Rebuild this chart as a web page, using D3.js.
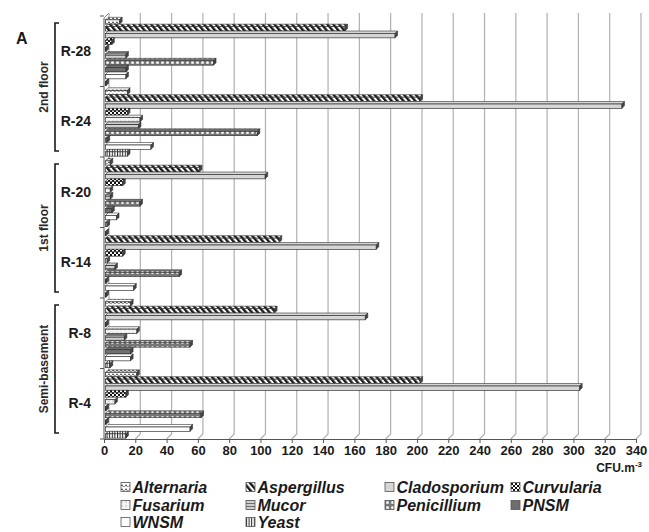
<!DOCTYPE html>
<html><head><meta charset="utf-8">
<script src="https://cdn.jsdelivr.net/npm/d3@7/dist/d3.min.js"></script>
<style>body{margin:0;background:#fff}svg{display:block;font-family:"Liberation Sans",Arial,sans-serif}</style>
</head><body><svg id="c" width="649" height="532"></svg>
<script>
const categories = ["R-28","R-24","R-20","R-14","R-8","R-4"];
const seriesNames = ["Alternaria","Aspergillus","Cladosporium","Curvularia","Fusarium","Mucor","Penicillium","PNSM","WNSM","Yeast"];
const alternaria   = [10, 15, 4, 1, 17, 21];
const aspergillus  = [154, 202, 61, 112, 109, 202];
const cladosporium = [186, 331, 103, 174, 167, 304];
const curvularia   = [5, 15, 12, 12, 1, 14];
const fusarium     = [0, 23, 4, 2, 21, 7];
const mucor        = [14, 22, 4, 7, 13, 1];
const penicillium  = [70, 98, 23, 48, 55, 62];
const pnsm         = [14, 2, 5, 1, 17, 1];
const wnsm         = [14, 30, 8, 19, 17, 55];
const yeast        = [1, 15, 2, 1, 4, 14];
const seriesValues = [alternaria, aspergillus, cladosporium, curvularia, fusarium, mucor, penicillium, pnsm, wnsm, yeast];
const xTicks = d3.range(0, 341, 20);
const floors = [{name:"2nd floor", cats:["R-28","R-24"]},{name:"1st floor", cats:["R-20","R-14"]},{name:"Semi-basement", cats:["R-8","R-4"]}];

const svg = d3.select("#c");
const defs = svg.append("defs");
const fills = {};
function pat(id, w, h, build, transform){
  const p = defs.append("pattern").attr("id", id).attr("patternUnits","userSpaceOnUse").attr("width", w).attr("height", h);
  if (transform) p.attr("patternTransform", transform);
  build(p);
  fills[id] = `url(#${id})`;
}
pat("alt", 4, 4, p => { p.append("rect").attr("width",4).attr("height",4).attr("fill","#fff");
  p.append("path").attr("d","M0,3.2 Q1,0.2 2,3.2 T4,3.2").attr("fill","none").attr("stroke","#444").attr("stroke-width",0.9); });
pat("asp", 4.5, 4.5, p => { p.append("rect").attr("width",4.5).attr("height",4.5).attr("fill","#fff");
  p.append("rect").attr("width",2.4).attr("height",4.5).attr("fill","#1a1a1a"); }, "rotate(-40)");
pat("clado", 4, 4, p => { p.append("rect").attr("width",4).attr("height",4).attr("fill","#d6d6d6"); });
pat("curv", 4, 4, p => { p.append("rect").attr("width",4).attr("height",4).attr("fill","#fff");
  p.append("rect").attr("width",2).attr("height",2).attr("fill","#111");
  p.append("rect").attr("x",2).attr("y",2).attr("width",2).attr("height",2).attr("fill","#111"); });
pat("fus", 4, 4, p => { p.append("rect").attr("width",4).attr("height",4).attr("fill","#f4f4f4");
  p.append("circle").attr("cx",1).attr("cy",1).attr("r",0.6).attr("fill","#888"); });
pat("mucor", 4, 3, p => { p.append("rect").attr("width",4).attr("height",3).attr("fill","#d0d0d0");
  p.append("path").attr("d","M0,2 L1,1 L2,2 L3,1 L4,2").attr("fill","none").attr("stroke","#555").attr("stroke-width",0.8); });
pat("pen", 5, 5, p => { p.append("rect").attr("width",5).attr("height",5).attr("fill","#777");
  p.append("circle").attr("cx",2.5).attr("cy",2.5).attr("r",1.5).attr("fill","#f2f2f2"); });
pat("pnsm", 4, 4, p => { p.append("rect").attr("width",4).attr("height",4).attr("fill","#6e6e6e"); });
pat("wnsm", 4, 4, p => { p.append("rect").attr("width",4).attr("height",4).attr("fill","#ffffff"); });
pat("yeast", 2.6, 4, p => { p.append("rect").attr("width",2.6).attr("height",4).attr("fill","#fff");
  p.append("rect").attr("width",1).attr("height",4).attr("fill","#222"); });
const fillKeys = ["alt","asp","clado","curv","fus","mucor","pen","pnsm","wnsm","yeast"];
const color = d3.scaleOrdinal().domain(seriesNames).range(fillKeys.map(k => fills[k]));

const x = d3.scaleLinear().domain([0, 340]).range([104, 636]);
const y0 = d3.scaleBand().domain(categories).range([16, 439]).paddingInner(0).paddingOuter(0);
const y1 = d3.scaleBand().domain(seriesNames).range([1, y0.bandwidth() - 0.5]).paddingInner(0).paddingOuter(0.05);
const D = 5, Dy = 5;   // wall depth
const bd = 2.5;        // bar depth

// back wall grid lines
const grid = svg.append("g");
xTicks.forEach(t => {
  grid.append("path").attr("d", `M${x(t)+D},13 L${x(t)+D},${439-Dy} L${x(t)},439`)
    .attr("fill","none").attr("stroke","#b0b0b0").attr("stroke-width",1.2);
});
grid.append("path").attr("d", `M${x(0)},18 L${x(0)+D},13`).attr("stroke","#888").attr("fill","none");
// axes
const xAxis = d3.axisBottom(x).tickValues(xTicks).tickSize(4).tickPadding(3).tickSizeOuter(0);
const gx = svg.append("g").attr("transform","translate(0,439)").call(xAxis);
gx.select(".domain").attr("stroke","#555");
gx.selectAll(".tick line").attr("stroke","#555");
gx.selectAll("text").attr("font-size",13).attr("font-weight","bold").attr("fill","#1a1a1a");

const yAxis = d3.axisLeft(y0).tickSize(0).tickPadding(13);
const gy = svg.append("g").attr("transform",`translate(${x(0)},0)`).call(yAxis);
gy.select(".domain").attr("stroke","#555").attr("d", `M0,18V439`);
gy.selectAll("text").attr("font-size",14).attr("font-weight","bold").attr("fill","#1a1a1a");
const bounds = categories.map(c => y0(c)).concat([y0(categories[categories.length-1]) + y0.bandwidth()]);
bounds.forEach(b => gy.append("line").attr("x1",-4).attr("x2",0).attr("y1",b).attr("y2",b).attr("stroke","#555"));

// bars
const bars = svg.append("g");
categories.forEach((c, ci) => {
  seriesNames.forEach((s, si) => {
    const v = seriesValues[si][ci];
    const h = y1.bandwidth() - bd;
    const yy = y0(c) + y1(s) + bd;
    const xa = x(0) + 1.5, xb = Math.max(x(v), xa + 0.5);
    const g = bars.append("g");
    g.append("path").attr("d", `M${xa},${yy} L${xa+bd},${yy-bd} L${xb+bd},${yy-bd} L${xb},${yy} Z`)
      .attr("fill", color(s)).attr("stroke","#333").attr("stroke-width",0.6);
    g.append("rect").attr("x", xa).attr("y", yy).attr("width", xb - xa).attr("height", h)
      .attr("fill", color(s)).attr("stroke","#333").attr("stroke-width",0.7);
    g.append("path").attr("d", `M${xb},${yy} L${xb+bd},${yy-bd} L${xb+bd},${yy-bd+h} L${xb},${yy+h} Z`)
      .attr("fill","#444").attr("stroke","#333").attr("stroke-width",0.6);
  });
});

// floor brackets and labels
floors.forEach(f => {
  const top = y0(f.cats[0]) + 7, bot = y0(f.cats[f.cats.length-1]) + y0.bandwidth() - 6;
  svg.append("path").attr("d", `M59,${top} H55 V${bot} H59`).attr("fill","none").attr("stroke","#1a1a1a").attr("stroke-width",1.6);
  svg.append("text").attr("transform", `translate(47.5,${(top+bot)/2}) rotate(-90)`)
    .attr("text-anchor","middle").attr("font-size",12).attr("font-weight","bold").attr("fill","#2a2a2a").text(f.name);
});
svg.append("text").attr("x",16).attr("y",44).attr("font-size",16).attr("font-weight","bold").attr("fill","#1a1a1a").text("A");

// unit label
const unit = svg.append("text").attr("x",642).attr("y",472).attr("text-anchor","end").attr("font-size",12).attr("font-weight","bold").attr("fill","#1a1a1a");
unit.append("tspan").text("CFU.m");
unit.append("tspan").attr("dy",-5).attr("font-size",8).text("-3");

// legend
const legX = [121, 246, 385, 511], legY = [487, 505, 522];
seriesNames.forEach((s, i) => {
  const lx = legX[i % 4], ly = legY[Math.floor(i / 4)];
  const g = svg.append("g").attr("transform", `translate(${lx},${ly})`);
  g.append("rect").attr("x",0).attr("y",-4.5).attr("width",9).attr("height",9).attr("fill", color(s)).attr("stroke","#555").attr("stroke-width",0.8);
  g.append("text").attr("x",11.5).attr("y",0).attr("dy","0.36em").attr("font-size",16).attr("font-weight","bold").attr("font-style","italic").attr("fill","#1a1a1a").text(s);
});
</script></body></html>
